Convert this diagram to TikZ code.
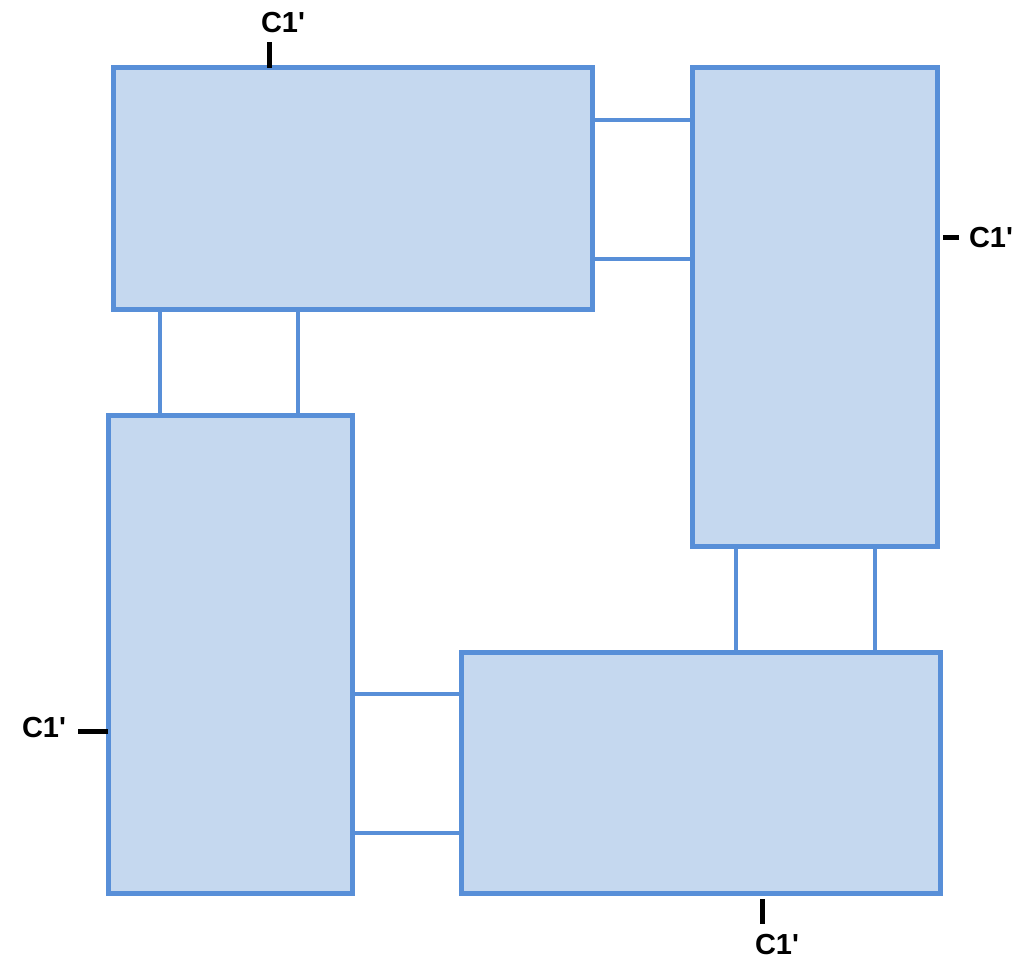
\documentclass[tikz,border=0pt]{standalone}
\usepackage{fontspec}
\setmainfont{Liberation Sans}
\definecolor{boxfill}{RGB}{197,216,239}
\definecolor{boxline}{RGB}{88,143,216}
\begin{document}
\begin{tikzpicture}[x=1pt,y=-1pt,
  blk/.style={draw=boxline,fill=boxfill,line width=5pt,inner sep=0pt,outer sep=0pt,anchor=north west},
  link/.style={draw=boxline,line width=4.5pt},
  tick/.style={draw=black,line width=5pt},
  lbl/.style={font=\fontsize{29}{30}\selectfont\bfseries,inner sep=0pt}]
\useasboundingbox (0,0) rectangle (1022,968);
\node[blk,minimum width=479pt,minimum height=241pt] (top) at (113,68) {};
\node[blk,minimum width=245pt,minimum height=478pt] (right) at (692,68) {};
\node[blk,minimum width=244pt,minimum height=478pt] (left) at (108,415) {};
\node[blk,minimum width=479pt,minimum height=241pt] (bottom) at (461,652) {};
% connectors
\draw[link] (top.east |- 0,120) -- (right.west |- 0,120);
\draw[link] (top.east |- 0,259) -- (right.west |- 0,259);
\draw[link] (160,0 |- top.south) -- (160,0 |- left.north);
\draw[link] (298,0 |- top.south) -- (298,0 |- left.north);
\draw[link] (736,0 |- right.south) -- (736,0 |- bottom.north);
\draw[link] (875,0 |- right.south) -- (875,0 |- bottom.north);
\draw[link] (left.east |- 0,694) -- (bottom.west |- 0,694);
\draw[link] (left.east |- 0,833) -- (bottom.west |- 0,833);
% labels
\node[lbl] (lt) at (283,23) {C1\textquotesingle};
\node[lbl] (lr) at (991,238) {C1\textquotesingle};
\node[lbl] (ll) at (44,728) {C1\textquotesingle};
\node[lbl] (lb) at (777,945) {C1\textquotesingle};
\coordinate (tt) at (269,42);
\coordinate (tr) at (959,238);
\coordinate (tl) at (78,731);
\coordinate (tb) at (762,924);
\draw[tick] (269,0 |- top.north) -- (tt);
\draw[tick] (right.east |- 0,238) ++(6,0) -- (tr);
\draw[tick] (left.west |- 0,731) -- (tl);
\draw[tick] (762,0 |- bottom.south) ++(0,6) -- (tb);
\end{tikzpicture}
\end{document}
